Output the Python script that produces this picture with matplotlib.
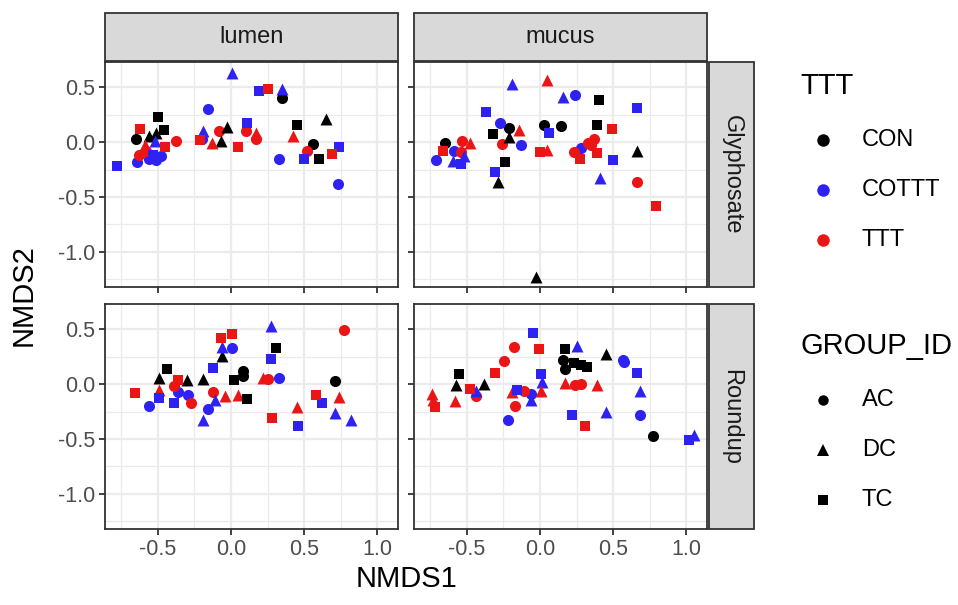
import matplotlib
matplotlib.use("Agg")
import matplotlib.pyplot as plt
from matplotlib.lines import Line2D
from matplotlib.patches import Rectangle
import numpy as np

plt.rcParams['font.family'] = ['Liberation Sans', 'DejaVu Sans']

# ---------------- data ----------------
columns = ["lumen", "mucus"]
rows = ["Glyphosate", "Roundup"]
ttt_levels = ["CON", "COTTT", "TTT"]
group_levels = ["AC", "DC", "TC"]
x_ticks = [-0.5, 0.0, 0.5, 1.0]
y_ticks = [0.5, 0.0, -0.5, -1.0]

# TTT code: K=CON, B=COTTT, R=TTT ; group code: A=AC, D=DC, T=TC
lumen_gly_x = [0.01, 0.19, 0.25, 0.35, 0.35, -0.16, -0.50, -0.46, -0.62, -0.65, -0.56, -0.51,
               -0.52, -0.45, -0.375, -0.59, -0.63, -0.64, -0.56, -0.51, -0.48, -0.53, -0.78, -0.58,
               -0.19, -0.20, -0.21, -0.13, -0.08, -0.03, -0.07, 0.05, 0.11, 0.10, 0.17, 0.17,
               0.45, 0.42, 0.65, 0.56, 0.52, 0.50, 0.60, 0.33, 0.69, 0.74, 0.73]
lumen_gly_y = [0.63, 0.47, 0.48, 0.48, 0.40, 0.30, 0.23, 0.11, 0.12, 0.03, 0.06, 0.08,
               0.01, -0.04, 0.01, -0.03, -0.12, -0.18, -0.15, -0.16, -0.13, -0.12, -0.22, -0.08,
               0.10, 0.03, 0.02, -0.01, 0.10, 0.14, 0.01, -0.04, 0.17, 0.10, 0.08, 0.03,
               0.16, 0.06, 0.21, -0.02, -0.08, -0.15, -0.15, -0.15, -0.11, -0.04, -0.38]
lumen_gly_t = list("BBRBKBKKRKKKBRRRRBBBBBBRBBRRRKKRBRRRKRKKRBKBRBB")
lumen_gly_g = list("DTTDAATTTADDDTADAAAAATTADATDADDTTADATDDAATTATTA")

mucus_gly_x = [-0.19, 0.045, 0.16, 0.24, 0.40, 0.66, -0.37, -0.27, -0.21, -0.32, -0.21, -0.14,
               0.03, 0.14, 0.06, 0.39, 0.49, -0.65, -0.66, -0.53, -0.475, -0.71, -0.59, -0.595,
               -0.52, -0.54, -0.54, -0.26, -0.13, -0.24, -0.305, -0.29, 0.0, 0.05, 0.23, 0.28,
               0.27, 0.33, 0.37, 0.35, 0.39, 0.50, 0.41, 0.66, 0.665, 0.79, -0.03]
mucus_gly_y = [0.53, 0.57, 0.41, 0.43, 0.38, 0.31, 0.27, 0.17, 0.13, 0.07, 0.05, 0.11,
               0.16, 0.15, 0.08, 0.16, 0.12, -0.01, -0.08, 0.01, -0.01, -0.16, -0.08, -0.17,
               -0.13, -0.20, -0.09, -0.02, -0.03, -0.18, -0.27, -0.36, -0.09, -0.07, -0.09, -0.05,
               -0.15, -0.01, 0.03, -0.03, -0.10, -0.16, -0.33, -0.08, -0.36, -0.58, -1.23]
mucus_gly_t = list("BRBBKBBBKKKRKKBKRKRRRBBBBBRRBKBKRRRBRRRRRBBKRRK")
mucus_gly_g = list("DDDATTTAATDDAATTTATADAADDTAAATTDTDAATAAATTDDATD")

lumen_rnd_x = [-0.655, -0.56, -0.49, -0.49, -0.49, -0.44, -0.36, -0.39, -0.30, -0.36, -0.295, -0.39,
               -0.27, -0.19, -0.19, -0.155, -0.12, -0.07, 0.01, -0.06, 0.007, -0.06, -0.125, -0.11,
               -0.04, 0.05, 0.018, 0.084, 0.084, 0.107, 0.275, 0.31, 0.27, 0.22, 0.25, 0.325,
               0.28, 0.45, 0.46, 0.58, 0.62, 0.74, 0.71, 0.71, 0.82, 0.77]
lumen_rnd_y = [-0.08, -0.20, -0.13, -0.05, 0.06, 0.14, 0.04, -0.02, 0.04, -0.07, -0.10, -0.17,
               -0.175, 0.045, -0.33, -0.23, 0.15, 0.42, 0.46, 0.34, 0.33, 0.26, -0.07, -0.145,
               -0.11, -0.10, 0.04, 0.12, 0.07, -0.14, 0.53, 0.33, 0.23, 0.06, 0.045, 0.054,
               -0.31, -0.21, -0.38, -0.10, -0.17, -0.12, 0.024, -0.265, -0.325, 0.49]
lumen_rnd_t = list("RBBRKKRRKBBBRKBBBRRBBKRBRRKKKKBKBRRBRRBRBRKBBR")
lumen_rnd_g = list("TATDDTTADAATADDATTTDADADDDTAATDTTDAATDTTTDADDA")

mucus_rnd_x = [-0.735, -0.72, -0.73, -0.58, -0.555, -0.57, -0.48, -0.44, -0.44, -0.38, -0.31, -0.245,
               -0.18, -0.05, -0.01, -0.19, -0.16, -0.11, -0.06, -0.06, -0.17, -0.22, 0.005, 0.016,
               0.01, 0.17, 0.25, 0.16, 0.17, 0.23, 0.28, 0.32, 0.17, 0.24, 0.28, 0.39,
               0.45, 0.57, 0.575, 0.66, 0.68, 0.68, 0.22, 0.31, 0.45, 0.77, 1.02, 1.05]
mucus_rnd_y = [-0.09, -0.21, -0.145, -0.15, 0.09, -0.006, -0.04, -0.06, -0.105, 0.0, 0.10, 0.21,
               0.34, 0.47, 0.32, -0.075, -0.05, -0.06, -0.09, -0.145, -0.20, -0.325, 0.09, 0.015,
               -0.06, 0.32, 0.35, 0.22, 0.135, 0.19, 0.17, 0.16, 0.006, -0.006, 0.0, -0.006,
               0.27, 0.22, 0.20, 0.10, -0.06, -0.28, -0.28, -0.38, -0.25, -0.47, -0.51, -0.46]
mucus_rnd_t = list("RRRRKKRBRKRRRBRRBRBBRBBBRKBKKKKKRRRRKBBBBBBRBKBB")
mucus_rnd_g = list("DTDDTDTDADTAATTDTAADAATDDTDAATTTDAADDAATDATTDATD")

panels = {
    ("Glyphosate", "lumen"): (lumen_gly_x, lumen_gly_y, lumen_gly_t, lumen_gly_g),
    ("Glyphosate", "mucus"): (mucus_gly_x, mucus_gly_y, mucus_gly_t, mucus_gly_g),
    ("Roundup", "lumen"): (lumen_rnd_x, lumen_rnd_y, lumen_rnd_t, lumen_rnd_g),
    ("Roundup", "mucus"): (mucus_rnd_x, mucus_rnd_y, mucus_rnd_t, mucus_rnd_g),
}

# ---------------- style ----------------
colors = {"K": "#000000", "B": "#2E22F2", "R": "#EC1515"}
ttt_code = {"CON": "K", "COTTT": "B", "TTT": "R"}
markers = {"A": "o", "D": "^", "T": "s"}
msize = {"A": 64, "D": 74, "T": 54}
grp_code = {"AC": "A", "DC": "D", "TC": "T"}

W, H = 958, 605
fig = plt.figure(figsize=(W / 100, H / 100), dpi=100)


def fx(px):
    return px / W


def fy(py):
    return 1 - py / H


col_left = {"lumen": 105, "mucus": 414}
panel_w = 293
row_top = {"Glyphosate": 62, "Roundup": 304}
panel_h = 225

xlim = (-0.86, 1.14)
ylim = (-1.32, 0.73)
border = "#333333"
grid_c = "#EBEBEB"

for (row, col), (xs, ys, ts, gs) in panels.items():
    l = col_left[col]
    t = row_top[row]
    ax = fig.add_axes([fx(l), fy(t + panel_h), panel_w / W, panel_h / H])
    ax.set_xlim(*xlim)
    ax.set_ylim(*ylim)
    ax.set_xticks(x_ticks)
    ax.set_yticks(y_ticks)
    ax.set_xticks([-0.75, -0.25, 0.25, 0.75], minor=True)
    ax.set_yticks([0.25, -0.25, -0.75, -1.25], minor=True)
    ax.grid(True, which="major", color=grid_c, lw=1.6, zorder=0)
    ax.grid(True, which="minor", color=grid_c, lw=0.9, zorder=0)
    ax.set_axisbelow(True)
    for sp in ax.spines.values():
        sp.set_color(border)
        sp.set_linewidth(1.3)
    ax.tick_params(which="minor", length=0)
    ax.tick_params(which="major", length=4, width=1.3, color=border,
                   labelsize=15.5, labelcolor="#4D4D4D", pad=3)
    if col != "lumen":
        ax.tick_params(labelleft=False)
    if row != "Roundup":
        ax.tick_params(labelbottom=False)
    ax.set_yticklabels(["0.5", "0.0", "-0.5", "-1.0"])
    ax.set_xticklabels(["-0.5", "0.0", "0.5", "1.0"])
    xs = np.array(xs)
    ys = np.array(ys)
    ts = np.array(ts)
    gs = np.array(gs)
    for g in ["A", "D", "T"]:
        for tc in ["K", "B", "R"]:
            m = (gs == g) & (ts == tc)
            if m.any():
                ax.scatter(xs[m], ys[m], marker=markers[g], s=msize[g], c=colors[tc],
                           linewidths=0, zorder=3)

# strips on top
for col in columns:
    l = col_left[col]
    r = Rectangle((fx(l), fy(61)), panel_w / W, 48 / H, transform=fig.transFigure,
                  facecolor="#D9D9D9", edgecolor=border, lw=1.3)
    fig.add_artist(r)
    fig.text(fx(l + panel_w / 2), fy(37), col, ha="center", va="center", fontsize=17,
             color="#1A1A1A")

# strips on right
for row in rows:
    t = row_top[row]
    r = Rectangle((fx(709), fy(t + panel_h)), 45 / W, panel_h / H, transform=fig.transFigure,
                  facecolor="#D9D9D9", edgecolor=border, lw=1.3)
    fig.add_artist(r)
    fig.text(fx(731.5), fy(t + panel_h / 2), row, ha="center", va="center", fontsize=17,
             color="#1A1A1A", rotation=-90)

# axis titles
fig.text(fx(406), fy(579), "NMDS1", ha="center", va="center", fontsize=21)
fig.text(fx(24), fy(295), "NMDS2", ha="center", va="center", fontsize=21, rotation=90)

# legends
fig.text(fx(800), fy(86), "TTT", ha="left", va="center", fontsize=21)
for i, lev in enumerate(ttt_levels):
    yy = 140 + 50 * i
    fig.add_artist(Line2D([fx(823)], [fy(yy)], marker="o", markersize=9, color=colors[ttt_code[lev]],
                          linestyle="none", markeredgewidth=0, transform=fig.transFigure))
    fig.text(fx(862), fy(yy), lev, ha="left", va="center", fontsize=17)

fig.text(fx(800), fy(346), "GROUP_ID", ha="left", va="center", fontsize=21)
leg_ms = {"A": 7.5, "D": 8, "T": 6.5}
for i, lev in enumerate(group_levels):
    yy = 400 + 50 * i
    g = grp_code[lev]
    fig.add_artist(Line2D([fx(823)], [fy(yy)], marker=markers[g], markersize=leg_ms[g], color="black",
                          linestyle="none", markeredgewidth=0, transform=fig.transFigure))
    fig.text(fx(862), fy(yy), lev, ha="left", va="center", fontsize=17)

fig.savefig("out.png", dpi=100)
